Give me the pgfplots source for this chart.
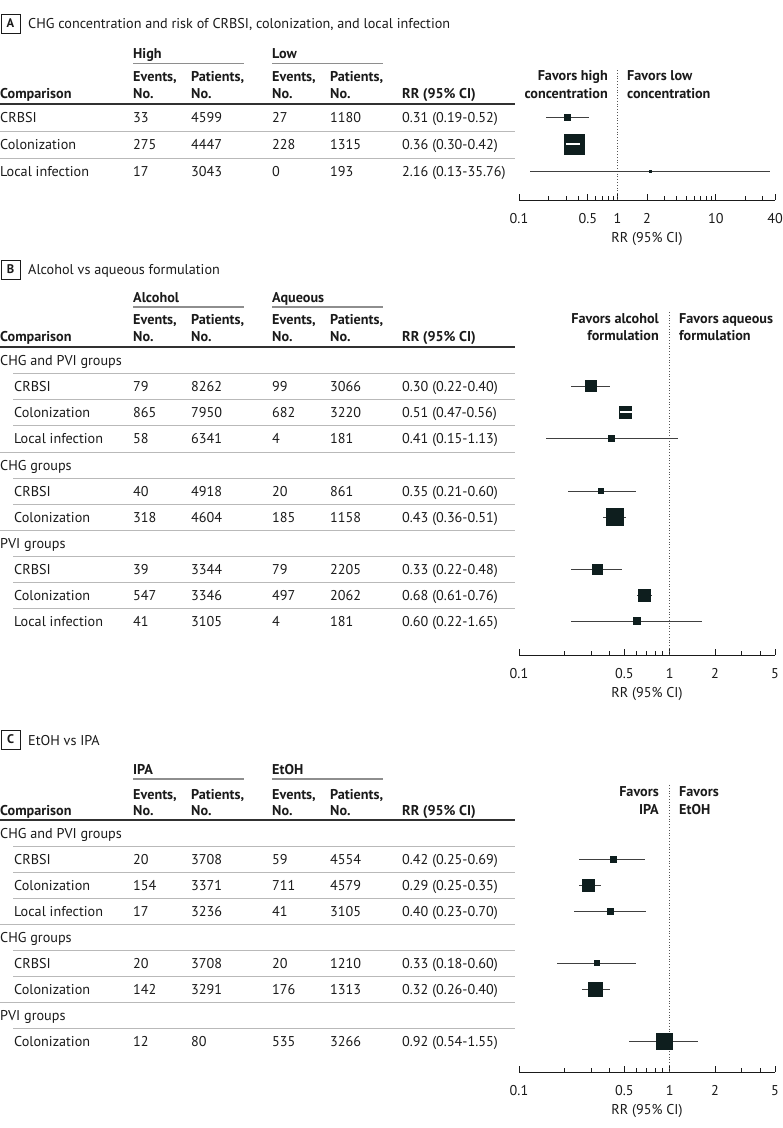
\documentclass[border=0pt]{standalone}
\usepackage{pgfplots}
\pgfplotsset{compat=1.18}
\usepackage{pgfplotstable}
\usepackage{fontspec}
\setmainfont{PT Sans}

\definecolor{ink}{HTML}{1A1A1A}
\definecolor{boxc}{HTML}{0E1E1E}
\definecolor{rowrule}{HTML}{B9B9B9}
\definecolor{headrule}{HTML}{8E8E8E}
\definecolor{cigray}{HTML}{404040}
\definecolor{refline}{HTML}{555555}

\newcommand\tf{\fontsize{14.2}{17}\selectfont}

% y = row centre (pt, downward negative), rr, lower, upper, half side of square
\pgfplotstableread{
y     rr    lo    hi     ms
-117  0.31  0.19  0.52   3
-144  0.36  0.30  0.42   10
-171  2.16  0.13  35.76  0.7
}\tabA
\pgfplotstableread{
y     rr    lo    hi     ms
-386  0.30  0.22  0.40   5.5
-412  0.51  0.47  0.56   6
-438  0.41  0.15  1.13   3
-491  0.35  0.21  0.60   2.5
-517  0.43  0.36  0.51   8.5
-569  0.33  0.22  0.48   5
-595  0.68  0.61  0.76   6
-621  0.60  0.22  1.65   3.5
}\tabB
\pgfplotstableread{
y      rr    lo    hi     ms
-859   0.42  0.25  0.69   3
-885   0.29  0.25  0.35   6
-911   0.40  0.23  0.70   3
-963   0.33  0.18  0.60   2.5
-989   0.32  0.26  0.40   7
-1041  0.92  0.54  1.55   8
}\tabC

\pgfplotsset{
  every axis/.append style={
    scale only axis, width=256pt,
    xmin=0.1,
    axis x line*=bottom, axis y line=none,
    x axis line style={draw=ink, line width=0.9pt},
    tick style={draw=ink, line width=0.7pt},
    major tick length=6pt, minor tick length=4pt,
    tick align=inside,
    clip=false,
    xlabel={RR (95\% CI)},
    ticklabel style={font=\tf, text=ink},
    label style={font=\tf, text=ink},
    xticklabel style={yshift=-10pt},
    xlabel style={yshift=-2pt},
  },
}

\tikzset{
  t/.style={anchor=base west, inner sep=0pt, text=ink, font=\tf},
  b/.style={t, font=\tf\bfseries},
  br/.style={b, anchor=base east},
  lab/.style={draw=ink, line width=0.8pt, inner sep=0pt, minimum width=19pt, minimum height=19pt,
    font=\fontsize{12.5}{14}\selectfont\bfseries, text=ink},
  thick rule/.style={draw=ink!90, line width=1.6pt},
  row rule/.style={draw=rowrule, line width=1pt},
  head rule/.style={draw=headrule, line width=1.4pt},
}

\begin{document}
\begin{tikzpicture}[x=1pt,y=1pt]
\path[use as bounding box] (0,0) rectangle (783,-1128);

% ---------------- Panel A ----------------
\node[lab] at (10.5,-23.5) {A};
\node[t] at (28,-28.5) {CHG concentration and risk of CRBSI, colonization, and local infection};
\node[b] at (133,-58) {High};
\node[b] at (272,-58) {Low};
\draw[head rule] (133,-63.5) -- (244,-63.5);
\draw[head rule] (272,-63.5) -- (383,-63.5);
\foreach \x in {133,272} {\node[b] at (\x,-81) {Events,}; \node[b] at (\x,-98) {No.};}
\foreach \x in {191,330} {\node[b] at (\x,-81) {Patients,}; \node[b] at (\x,-98) {No.};}
\node[b] at (0,-98) {Comparison};
\node[b] at (402,-98) {RR (95\% CI)};
\draw[thick rule] (0,-104) -- (515,-104);
\foreach \yy in {131,158} \draw[row rule] (0,-\yy) -- (515,-\yy);
\foreach \yy/\c/\ea/\pa/\eb/\pb/\rr in {
  122/CRBSI/33/4599/27/1180/{0.31 (0.19-0.52)},
  149/Colonization/275/4447/228/1315/{0.36 (0.30-0.42)},
  176/Local infection/17/3043/0/193/{2.16 (0.13-35.76)}} {
  \node[t] at (0,-\yy) {\c};
  \node[t] at (133,-\yy) {\ea};
  \node[t] at (191,-\yy) {\pa};
  \node[t] at (272,-\yy) {\eb};
  \node[t] at (330,-\yy) {\pb};
  \node[t] at (402,-\yy) {\rr};
}
\node[br] at (608,-80) {Favors high};
\node[br] at (608,-98) {concentration};
\node[b] at (627,-80) {Favors low};
\node[b] at (627,-98) {concentration};

\begin{semilogxaxis}[at={(519pt,-200pt)}, anchor=south west,
  xmax=40, ymin=-200, ymax=-60, height=140pt,
  xtick={0.1,0.5,1,2,10,40},
  xticklabels={\mbox{0.1},\mbox{0.5},\mbox{1},\mbox{2},\mbox{10},\mbox{40}},
  minor xtick={0.2,0.3,0.4,0.6,0.7,0.8,0.9,3,4,5,6,7,8,9,20,30}]
  \draw[refline, dotted, line width=0.8pt] (1,-70) -- (1,-200);
  \addplot[draw=none, mark=none, forget plot,
    error bars/x dir=both, error bars/x explicit, error bars/error mark=none,
    error bars/error bar style={draw=cigray, line width=0.8pt}]
    table[x=rr, y=y,
    x error plus expr=\thisrow{hi}-\thisrow{rr},
    x error minus expr=\thisrow{rr}-\thisrow{lo}] {\tabA};
  \addplot[scatter, only marks, mark=square*,
    scatter/use mapped color={draw=boxc, fill=boxc},
    visualization depends on={\thisrow{ms} \as \ms},
    scatter/@pre marker code/.append style={/tikz/mark size=\ms pt}]
    table[x=rr, y=y] {\tabA};
\end{semilogxaxis}
% CI lying wholly inside its square, drawn on top
\begin{semilogxaxis}[at={(519pt,-200pt)}, anchor=south west, hide axis,
  xmax=40, ymin=-200, ymax=-60, height=140pt]
  \addplot[draw=white, line width=1.2pt, mark=none]
    coordinates {(0.30,-144) (0.42,-144)};
\end{semilogxaxis}

% ---------------- Panel B ----------------
\node[lab] at (10.5,-269.5) {B};
\node[t] at (28,-274) {Alcohol vs aqueous formulation};
\node[b] at (133,-302) {Alcohol};
\node[b] at (272,-302) {Aqueous};
\draw[head rule] (133,-307) -- (244,-307);
\draw[head rule] (272,-307) -- (383,-307);
\foreach \x in {133,272} {\node[b] at (\x,-324) {Events,}; \node[b] at (\x,-341) {No.};}
\foreach \x in {191,330} {\node[b] at (\x,-324) {Patients,}; \node[b] at (\x,-341) {No.};}
\node[b] at (0,-341) {Comparison};
\node[b] at (402,-341) {RR (95\% CI)};
\draw[thick rule] (0,-347) -- (515,-347);
\foreach \yy/\xs in {373/13,399/13,425/13,452/0,478/13,504/13,530/0,556/13,582/13,608/13}
  \draw[row rule] (\xs,-\yy) -- (515,-\yy);
\node[t] at (0,-365) {CHG and PVI groups};
\node[t] at (0,-470) {CHG groups};
\node[t] at (0,-548) {PVI groups};
\foreach \yy/\c/\ea/\pa/\eb/\pb/\rr in {
  391/CRBSI/79/8262/99/3066/{0.30 (0.22-0.40)},
  417/Colonization/865/7950/682/3220/{0.51 (0.47-0.56)},
  443/Local infection/58/6341/4/181/{0.41 (0.15-1.13)},
  496/CRBSI/40/4918/20/861/{0.35 (0.21-0.60)},
  522/Colonization/318/4604/185/1158/{0.43 (0.36-0.51)},
  574/CRBSI/39/3344/79/2205/{0.33 (0.22-0.48)},
  600/Colonization/547/3346/497/2062/{0.68 (0.61-0.76)},
  626/Local infection/41/3105/4/181/{0.60 (0.22-1.65)}} {
  \node[t] at (14,-\yy) {\c};
  \node[t] at (133,-\yy) {\ea};
  \node[t] at (191,-\yy) {\pa};
  \node[t] at (272,-\yy) {\eb};
  \node[t] at (330,-\yy) {\pb};
  \node[t] at (402,-\yy) {\rr};
}
\node[br] at (659,-323) {Favors alcohol};
\node[br] at (659,-340) {formulation};
\node[b] at (679,-323) {Favors aqueous};
\node[b] at (679,-340) {formulation};

\begin{semilogxaxis}[at={(519pt,-655pt)}, anchor=south west,
  xmax=5, ymin=-655, ymax=-300, height=355pt,
  xtick={0.1,0.5,1,2,5},
  xticklabels={\mbox{0.1},\mbox{0.5},\mbox{1},\mbox{2},\mbox{5}},
  minor xtick={0.2,0.3,0.4,0.6,0.7,0.8,0.9,3,4}]
  \draw[refline, dotted, line width=0.8pt] (1,-312) -- (1,-655);
  \addplot[draw=none, mark=none, forget plot,
    error bars/x dir=both, error bars/x explicit, error bars/error mark=none,
    error bars/error bar style={draw=cigray, line width=0.8pt}]
    table[x=rr, y=y,
    x error plus expr=\thisrow{hi}-\thisrow{rr},
    x error minus expr=\thisrow{rr}-\thisrow{lo}] {\tabB};
  \addplot[scatter, only marks, mark=square*,
    scatter/use mapped color={draw=boxc, fill=boxc},
    visualization depends on={\thisrow{ms} \as \ms},
    scatter/@pre marker code/.append style={/tikz/mark size=\ms pt}]
    table[x=rr, y=y] {\tabB};
\end{semilogxaxis}
\begin{semilogxaxis}[at={(519pt,-655pt)}, anchor=south west, hide axis,
  xmax=5, ymin=-655, ymax=-300, height=355pt]
  \addplot[draw=white, line width=1.2pt, mark=none]
    coordinates {(0.47,-412) (0.56,-412)};
\end{semilogxaxis}

% ---------------- Panel C ----------------
\node[lab] at (10.5,-739.5) {C};
\node[t] at (28,-745) {EtOH vs IPA};
\node[b] at (133,-774) {IPA};
\node[b] at (272,-774) {EtOH};
\draw[head rule] (133,-779) -- (244,-779);
\draw[head rule] (272,-779) -- (383,-779);
\foreach \x in {133,272} {\node[b] at (\x,-799) {Events,}; \node[b] at (\x,-815) {No.};}
\foreach \x in {191,330} {\node[b] at (\x,-799) {Patients,}; \node[b] at (\x,-815) {No.};}
\node[b] at (0,-815) {Comparison};
\node[b] at (402,-815) {RR (95\% CI)};
\draw[thick rule] (0,-820) -- (515,-820);
\foreach \yy/\xs in {846/13,872/13,898/13,924/0,950/13,976/13,1002/0,1028/13}
  \draw[row rule] (\xs,-\yy) -- (515,-\yy);
\node[t] at (0,-838) {CHG and PVI groups};
\node[t] at (0,-942) {CHG groups};
\node[t] at (0,-1020) {PVI groups};
\foreach \yy/\c/\ea/\pa/\eb/\pb/\rr in {
  864/CRBSI/20/3708/59/4554/{0.42 (0.25-0.69)},
  890/Colonization/154/3371/711/4579/{0.29 (0.25-0.35)},
  916/Local infection/17/3236/41/3105/{0.40 (0.23-0.70)},
  968/CRBSI/20/3708/20/1210/{0.33 (0.18-0.60)},
  994/Colonization/142/3291/176/1313/{0.32 (0.26-0.40)},
  1046/Colonization/12/80/535/3266/{0.92 (0.54-1.55)}} {
  \node[t] at (14,-\yy) {\c};
  \node[t] at (133,-\yy) {\ea};
  \node[t] at (191,-\yy) {\pa};
  \node[t] at (272,-\yy) {\eb};
  \node[t] at (330,-\yy) {\pb};
  \node[t] at (402,-\yy) {\rr};
}
\node[br] at (659,-796) {Favors};
\node[br] at (659,-814) {IPA};
\node[b] at (679,-796) {Favors};
\node[b] at (679,-814) {EtOH};

\begin{semilogxaxis}[at={(519pt,-1072pt)}, anchor=south west,
  xmax=5, ymin=-1072, ymax=-775, height=297pt,
  xtick={0.1,0.5,1,2,5},
  xticklabels={\mbox{0.1},\mbox{0.5},\mbox{1},\mbox{2},\mbox{5}},
  minor xtick={0.2,0.3,0.4,0.6,0.7,0.8,0.9,3,4}]
  \draw[refline, dotted, line width=0.8pt] (1,-785) -- (1,-1072);
  \addplot[draw=none, mark=none, forget plot,
    error bars/x dir=both, error bars/x explicit, error bars/error mark=none,
    error bars/error bar style={draw=cigray, line width=0.8pt}]
    table[x=rr, y=y,
    x error plus expr=\thisrow{hi}-\thisrow{rr},
    x error minus expr=\thisrow{rr}-\thisrow{lo}] {\tabC};
  \addplot[scatter, only marks, mark=square*,
    scatter/use mapped color={draw=boxc, fill=boxc},
    visualization depends on={\thisrow{ms} \as \ms},
    scatter/@pre marker code/.append style={/tikz/mark size=\ms pt}]
    table[x=rr, y=y] {\tabC};
\end{semilogxaxis}
\end{tikzpicture}
\end{document}
